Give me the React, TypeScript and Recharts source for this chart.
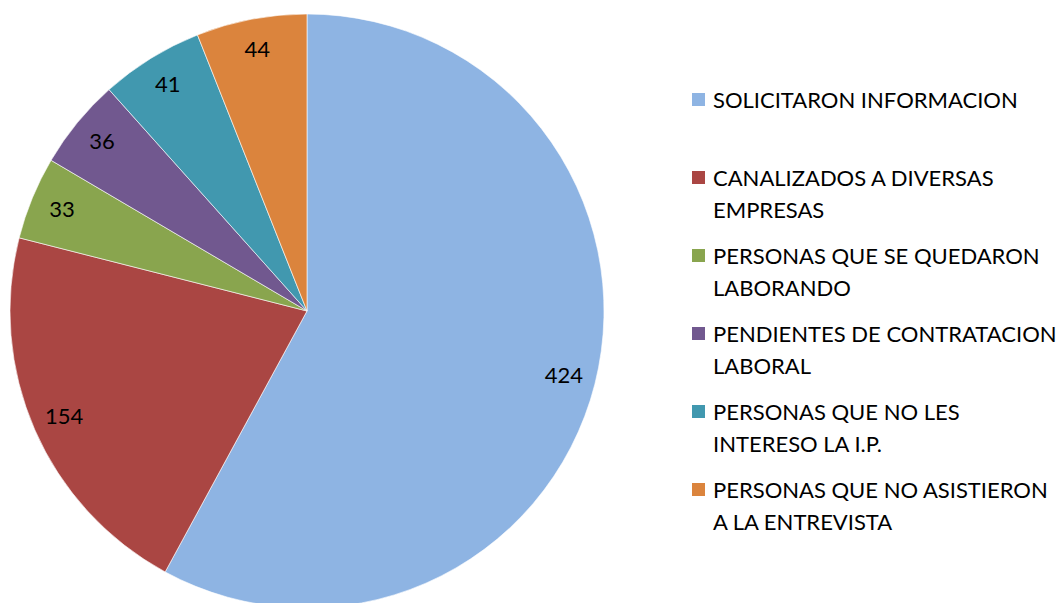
import { Cell, Legend, Pie, PieChart } from "recharts";

const categories = [
  "SOLICITARON INFORMACION",
  "CANALIZADOS A DIVERSAS EMPRESAS",
  "PERSONAS QUE SE QUEDARON LABORANDO",
  "PENDIENTES DE CONTRATACION LABORAL",
  "PERSONAS QUE NO LES INTERESO LA I.P.",
  "PERSONAS QUE NO ASISTIERON A LA ENTREVISTA"
];
const legendLines = [
  ["SOLICITARON INFORMACION"],
  ["CANALIZADOS A DIVERSAS", "EMPRESAS"],
  ["PERSONAS QUE SE QUEDARON", "LABORANDO"],
  ["PENDIENTES DE CONTRATACION", "LABORAL"],
  ["PERSONAS QUE NO LES", "INTERESO LA I.P."],
  ["PERSONAS QUE NO ASISTIERON", "A LA ENTREVISTA"]
];
const values = [424, 154, 33, 36, 41, 44];
const colors = ["#8EB4E3", "#AA4643", "#89A54E", "#71588F", "#4198AF", "#DB843D"];

const data = categories.map((name, i) => ({ name, value: values[i] }));

const FONT = "Lato, 'Open Sans', sans-serif";
const RAD = Math.PI / 180;

function renderLabel(props: any) {
  const { cx, cy, midAngle, value } = props;
  const r = 265;
  const x = cx + r * Math.cos(-midAngle * RAD);
  const y = cy + r * Math.sin(-midAngle * RAD) - 2;
  return (
    <text x={x} y={y} fill="#000" fontSize={22} fontFamily={FONT} textAnchor="middle" dominantBaseline="central">
      {value}
    </text>
  );
}

function LegendBox() {
  return (
    <div style={{ fontFamily: FONT, fontSize: 22, color: "#000" }}>
      {legendLines.map((lines, i) => (
        <div key={i} style={{ height: 78, position: "relative", paddingLeft: 21 }}>
          <span
            style={{
              position: "absolute",
              left: 0,
              top: 9,
              width: 13,
              height: 13,
              background: colors[i]
            }}
          />
          {lines.map((l, j) => (
            <div key={j} style={{ lineHeight: "32px", whiteSpace: "nowrap" }}>
              {l}
            </div>
          ))}
        </div>
      ))}
    </div>
  );
}

export default function App() {
  return (
    <div style={{ position: "absolute", left: 0, top: 0, width: 1056, height: 603, background: "#fff" }}>
      <PieChart width={1056} height={603} margin={{ top: 0, right: 0, bottom: 0, left: 0 }}>
        <Pie
          data={data}
          dataKey="value"
          nameKey="name"
          cx={307}
          cy={311}
          outerRadius={297}
          startAngle={90}
          endAngle={-270}
          stroke="#ffffff"
          strokeWidth={0.6}
          label={renderLabel}
          labelLine={false}
          isAnimationActive={false}
        >
          {data.map((d, i) => (
            <Cell key={d.name} fill={colors[i]} />
          ))}
        </Pie>
        <Legend
          layout="vertical"
          content={() => <LegendBox />}
          wrapperStyle={{ left: 692, top: 84, width: 364 }}
        />
      </PieChart>
    </div>
  );
}
